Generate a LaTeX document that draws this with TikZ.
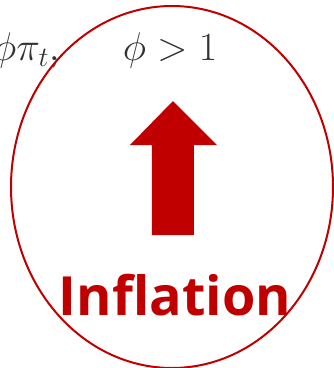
\RequirePackage{fix-cm}
\documentclass[tikz,border=0pt]{standalone}
\usetikzlibrary{shapes.geometric}
\usepackage{fontspec}
\newfontfamily\infont{Open Sans}
\definecolor{infred}{HTML}{C00000}
\begin{document}
\begin{tikzpicture}[x=1pt,y=-1pt,
  ring/.style={draw=infred,line width=2pt},
  mathlbl/.style={inner sep=0pt,text=black!80,font=\fontsize{40}{48}\selectfont},
  biglbl/.style={inner sep=0pt,text=infred,font=\infont\bfseries\fontsize{54}{60}\selectfont}]
\useasboundingbox (0,0) rectangle (334,368);
\clip (0,0) rectangle (334,368);
\node[ring,ellipse,minimum width=322pt,minimum height=362pt,inner sep=0pt] (e) at (172,187) {};
\node[mathlbl,anchor=base east] (l) at (60,60) {$\phi\pi_{t},$};
\node[mathlbl,anchor=base] (r) at (170,60) {$\phi > 1$};
\fill[infred] (152,235) -- (194,235) -- (194,145) -- (217,145) -- (173,101) -- (130,145) -- (152,145) -- cycle;
\node[biglbl,anchor=base] (inf) at (175,315) {Inflation};
\end{tikzpicture}
\end{document}
